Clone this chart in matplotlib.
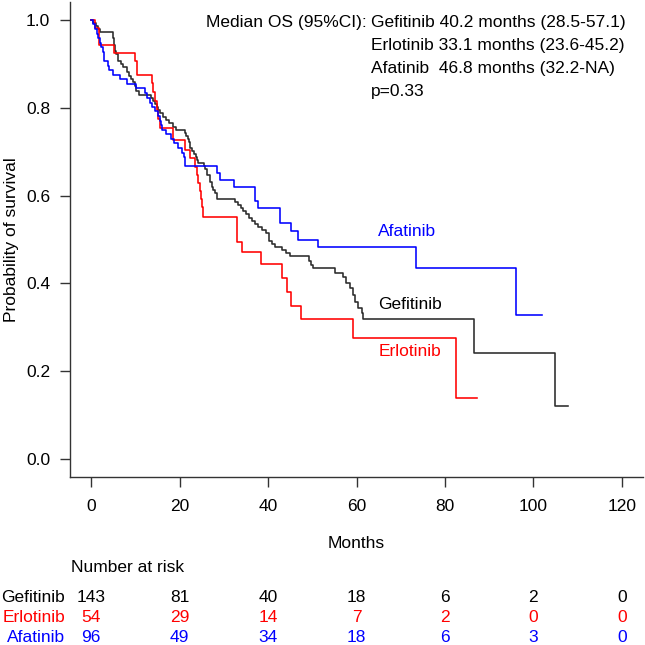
import matplotlib
matplotlib.use("Agg")
import matplotlib.pyplot as plt
from matplotlib.transforms import blended_transform_factory

plt.rcParams['font.family'] = ['Liberation Sans', 'DejaVu Sans']
plt.rcParams['font.size'] = 12.5

# Kaplan-Meier step curves (months, survival after step)
gef_t = [0, 0.5, 1.0, 1.5, 1.9, 4.9, 5.2, 5.4, 5.6, 6.0, 6.8, 7.2, 8.0, 8.6, 9.0, 9.4, 9.8, 10.2, 10.9,
         13.5, 14.0, 14.4, 14.8, 15.2, 15.6, 16.3, 17.0, 17.6, 18.6, 19.2, 21.2, 21.5, 21.8, 22.1, 22.4,
         22.8, 23.2, 23.6, 23.9, 24.2, 25.4, 25.8, 26.1, 26.9, 27.3, 27.6, 28.0, 28.4,
         32.5, 33.2, 33.8, 34.4, 35.0, 35.6, 36.3, 37.0, 37.8, 38.6, 39.5, 40.2, 40.8, 41.5, 43.1, 44.0, 45.0,
         49.2, 49.7, 50.2, 55.1, 57.0, 57.7, 58.5, 59.1, 59.7, 60.3, 61.2, 61.5, 86.6, 105.0, 107.9]
gef_s = [1.0, 0.993, 0.986, 0.979, 0.972, 0.958, 0.944, 0.930, 0.923, 0.907, 0.900, 0.892, 0.881, 0.873, 0.866, 0.858, 0.850, 0.839, 0.829,
         0.822, 0.815, 0.808, 0.801, 0.794, 0.787, 0.780, 0.773, 0.766, 0.757, 0.749, 0.742, 0.735, 0.728, 0.721, 0.708,
         0.701, 0.694, 0.687, 0.681, 0.674, 0.667, 0.660, 0.646, 0.632, 0.620, 0.613, 0.605, 0.592,
         0.585, 0.578, 0.571, 0.564, 0.557, 0.550, 0.543, 0.536, 0.529, 0.522, 0.515, 0.497, 0.490, 0.483, 0.476, 0.469, 0.462,
         0.452, 0.443, 0.434, 0.423, 0.415, 0.402, 0.389, 0.373, 0.358, 0.345, 0.332, 0.320, 0.241, 0.121, 0.121]

erl_t = [0, 0.8, 1.7, 5.2, 10.0, 10.4, 13.7, 14.0, 14.4, 14.8, 15.2, 15.6, 18.5, 21.2, 22.4, 23.5, 23.9, 24.2,
         24.5, 24.8, 25.0, 25.3, 33.0, 34.1, 38.5, 43.1, 44.2, 45.2, 47.4, 59.1, 82.6, 87.3]
erl_s = [1.0, 0.981, 0.944, 0.925, 0.906, 0.875, 0.856, 0.836, 0.815, 0.795, 0.774, 0.753, 0.727, 0.704, 0.685, 0.666, 0.648, 0.629,
         0.611, 0.592, 0.573, 0.551, 0.495, 0.472, 0.444, 0.412, 0.381, 0.349, 0.318, 0.276, 0.138, 0.138]

afa_t = [0, 0.4, 0.8, 1.2, 1.6, 2.0, 2.3, 2.6, 2.8, 3.0, 3.7, 4.1, 4.9, 6.5, 8.0, 10.2, 12.2, 12.6, 13.3, 13.8,
         14.5, 15.2, 15.5, 15.8, 16.0, 17.0, 18.0, 18.8, 19.6, 20.6, 20.9, 21.2, 28.4, 29.1, 32.2, 37.0, 37.8,
         42.7, 45.1, 46.8, 51.2, 73.4, 96.0, 101.9]
afa_s = [1.0, 0.990, 0.979, 0.969, 0.958, 0.948, 0.938, 0.927, 0.917, 0.906, 0.896, 0.885, 0.875, 0.865, 0.854, 0.844, 0.833, 0.823, 0.812, 0.802,
         0.792, 0.781, 0.771, 0.760, 0.750, 0.740, 0.729, 0.719, 0.708, 0.698, 0.688, 0.667, 0.651, 0.636, 0.619, 0.588, 0.572,
         0.538, 0.519, 0.500, 0.484, 0.436, 0.328, 0.328]

groups = ['Gefitinib', 'Erlotinib', 'Afatinib']
colors = ['#2b2b2b', 'red', 'blue']
text_colors = ['black', 'red', 'blue']
label_y = [0.351, 0.244, 0.518]

risk_times = [0, 20, 40, 60, 80, 100, 120]
risk_gef = [143, 81, 40, 18, 6, 2, 0]
risk_erl = [54, 29, 14, 7, 2, 0, 0]
risk_afa = [96, 49, 34, 18, 6, 3, 0]

medians = ['Gefitinib 40.2 months (28.5-57.1)',
           'Erlotinib 33.1 months (23.6-45.2)',
           'Afatinib  46.8 months (32.2-NA)',
           'p=0.33']

W = 645.0


def fx(px):
    return px / W


def fy(py):
    return 1 - py / W


fig = plt.figure(figsize=(6.45, 6.45), dpi=100)
ax = fig.add_axes([fx(70), fy(476.6), (643 - 70) / W, (476.6 - 2.4) / W])

for t, s, c in zip([gef_t, erl_t, afa_t], [gef_s, erl_s, afa_s], colors):
    ax.step(t, s, where='post', color=c, lw=1.15)

for g, c, y in zip(groups, text_colors, label_y):
    ax.text(64.9, y, g, color=c, ha='left', va='center')

ax.set_xlim(-4.8, 124.8)
ax.set_ylim(-0.04, 1.04)
ax.set_xticks(risk_times)
ax.set_yticks([0, 0.2, 0.4, 0.6, 0.8, 1.0])
ax.set_yticklabels(['0.0', '0.2', '0.4', '0.6', '0.8', '1.0'])
ax.spines['top'].set_visible(False)
ax.spines['right'].set_visible(False)
for sp in ['left', 'bottom']:
    ax.spines[sp].set_color('#333333')
    ax.spines[sp].set_linewidth(1.0)
ax.tick_params(axis='both', length=7.2, width=1.0, color='#333333', labelsize=12.5)
ax.tick_params(axis='x', pad=9)
ax.tick_params(axis='y', pad=7)

fig.text(fx(12), fy(239.5), 'Probability of survival', rotation=90, ha='center', va='center')
fig.text(fx(356.5), fy(544), 'Months', ha='center', va='center')
fig.text(fx(71), fy(568), 'Number at risk', ha='left', va='center')

# median OS block
fig.text(fx(367), fy(23), 'Median OS (95%CI):', ha='right', va='center')
for i, line in enumerate(medians):
    fig.text(fx(371), fy(23 + 22.7 * i), line, ha='left', va='center')

# number at risk table
tr = blended_transform_factory(ax.transData, fig.transFigure)
row_y = [597, 617, 637]
for g, c, counts, y in zip(groups, text_colors, [risk_gef, risk_erl, risk_afa], row_y):
    fig.text(fx(65), fy(y), g, color=c, ha='right', va='center')
    for t, n in zip(risk_times, counts):
        ax.text(t, fy(y), str(n), transform=tr, color=c,
                ha='center', va='center', clip_on=False)

fig.savefig('out.png', dpi=100, facecolor='white')
